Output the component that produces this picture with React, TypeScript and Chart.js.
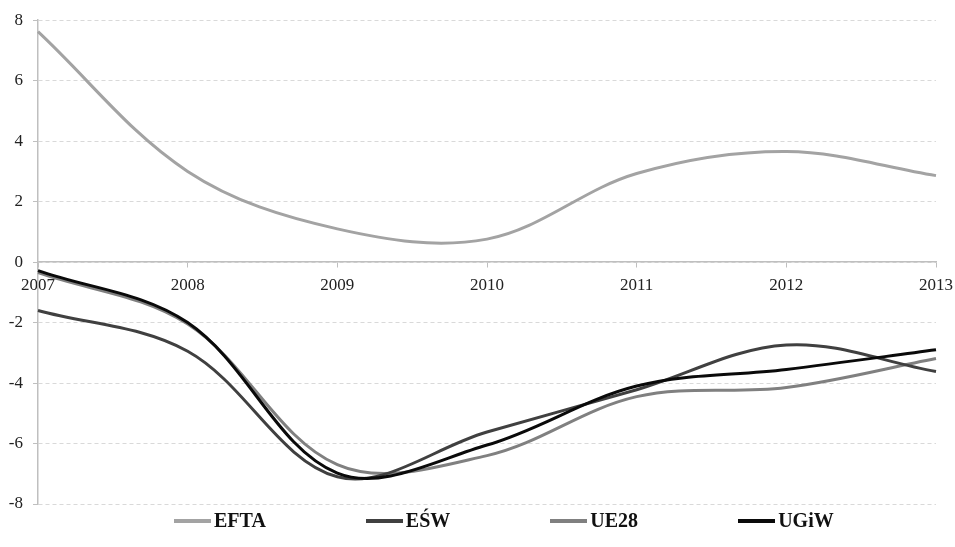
import React, { useEffect, useRef } from "react";
import { Chart, registerables } from "chart.js";

Chart.register(...registerables);

const years = ["2007", "2008", "2009", "2010", "2011", "2012", "2013"];
const seriesNames = ["EFTA", "EŚW", "UE28", "UGiW"];
const efta = [7.62, 3.0, 1.1, 0.76, 2.93, 3.66, 2.86];
const esw = [-1.6, -2.95, -7.1, -5.62, -4.22, -2.74, -3.62];
const ue28 = [-0.35, -2.05, -6.7, -6.4, -4.45, -4.15, -3.19];
const ugiw = [-0.28, -2.0, -6.98, -6.05, -4.1, -3.55, -2.9];
const colors = ["#a3a3a3", "#404040", "#808080", "#0a0a0a"];
const yTicksMin = -8;
const yTicksMax = 8;
const yStep = 2;

export default function App() {
  const ref = useRef<HTMLCanvasElement | null>(null);

  useEffect(() => {
    const values = [efta, esw, ue28, ugiw];
    const orders = [3, 1, 2, 0];
    const chart = new Chart(ref.current as HTMLCanvasElement, {
      type: "line",
      data: {
        labels: years,
        datasets: seriesNames.map((name, i) => ({
          label: name,
          data: values[i],
          borderColor: colors[i],
          backgroundColor: colors[i],
          borderWidth: 3,
          pointRadius: 0,
          tension: 0.35,
          fill: false,
          order: orders[i],
        })),
      },
      options: {
        responsive: false,
        animation: false,
        layout: { padding: { top: 18, right: 19, bottom: 43, left: 0 } },
        plugins: { legend: { display: false }, tooltip: { enabled: false } },
        scales: {
          x: {
            type: "category",
            offset: false,
            position: { y: 0 } as any,
            afterFit: (s: any) => {
              s.height = 0;
              s.paddingRight = 0;
              s.paddingLeft = 0;
            },
            grid: {
              drawOnChartArea: false,
              drawTicks: true,
              tickLength: 5,
              tickColor: "#bfbfbf",
            },
            border: { color: "#bfbfbf", width: 1.5 },
            ticks: {
              color: "#222",
              padding: 8,
              maxRotation: 0,
              autoSkip: false,
              font: { family: "Liberation Serif", size: 17 },
            },
          },
          y: {
            min: yTicksMin,
            max: yTicksMax,
            afterFit: (s: any) => {
              s.width = 38;
            },
            grid: {
              color: "#d9d9d9",
              lineWidth: 1,
              tickLength: 5,
              tickColor: "#bfbfbf",
              tickBorderDash: [],
            } as any,
            border: { color: "#bfbfbf", width: 1.5, dash: [4, 3] } as any,
            ticks: {
              stepSize: yStep,
              color: "#222",
              padding: 10,
              font: { family: "Liberation Serif", size: 17 },
            },
          },
        },
      },
    });
    return () => chart.destroy();
  }, []);

  return (
    <div style={{ position: "fixed", left: 0, top: 0, width: 955, height: 547, background: "#fff" }}>
      <canvas ref={ref} width={955} height={547} />
      <div
        style={{
          position: "absolute",
          left: 174,
          top: 509,
          display: "flex",
          alignItems: "center",
          gap: 100,
          fontFamily: "Liberation Serif",
          fontWeight: "bold",
          fontSize: 20,
          color: "#111",
          whiteSpace: "nowrap",
        }}
      >
        {seriesNames.map((name, i) => (
          <div key={name} style={{ display: "flex", alignItems: "center" }}>
            <span style={{ display: "inline-block", width: 37, height: 4, background: colors[i], marginRight: 3 }} />
            <span>{name}</span>
          </div>
        ))}
      </div>
    </div>
  );
}
